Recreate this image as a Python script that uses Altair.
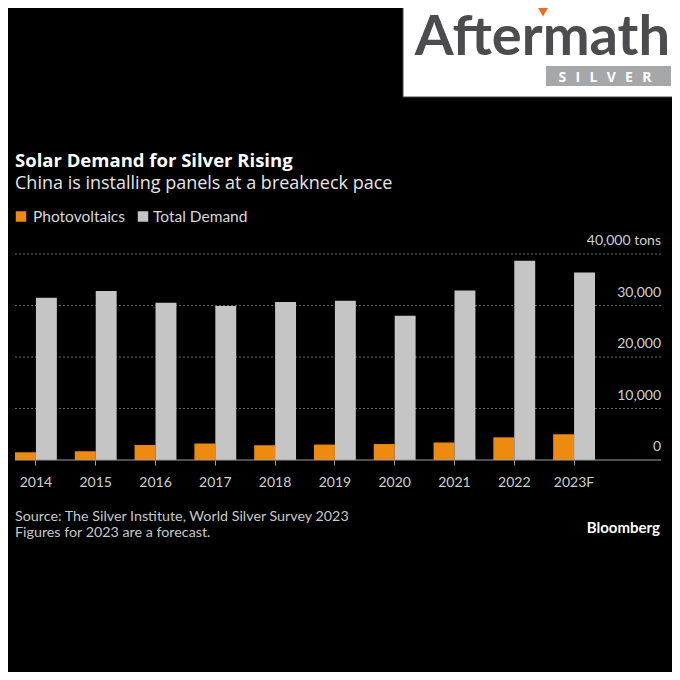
import altair as alt
import pandas as pd

years = ["2014", "2015", "2016", "2017", "2018", "2019", "2020", "2021", "2022", "2023F"]
photovoltaics = [1500, 1700, 2900, 3200, 2850, 3000, 3100, 3400, 4400, 5000]
total_demand = [31500, 32800, 30550, 29900, 30700, 30900, 28000, 32900, 38700, 36400]
series_names = ["Photovoltaics", "Total Demand"]
series_colors = ["#ee8a0f", "#c5c5c5"]
grid_values = [10000, 20000, 30000, 40000]
ytick_values = [0, 10000, 20000, 30000, 40000]
ytick_labels = ["0", "10,000", "20,000", "30,000", "40,000 tons"]

title = "Solar Demand for Silver Rising"
subtitle = "China is installing panels at a breakneck pace"
source1 = "Source: The Silver Institute, World Silver Survey 2023"
source2 = "Figures for 2023 are a forecast."

FONT = "Lato"
HEAD = "Open Sans"

rows = []
for i, y in enumerate(years):
    rows.append({"year": y, "series": series_names[0], "value": photovoltaics[i]})
    rows.append({"year": y, "series": series_names[1], "value": total_demand[i]})
bars_df = pd.DataFrame(rows)
grid_df = pd.DataFrame({"value": grid_values})
ylab_df = pd.DataFrame({"value": ytick_values, "label": ytick_labels})

yscale = alt.Scale(domain=[0, 40000], nice=False)

grid = alt.Chart(grid_df).mark_rule(color="#6a6a6a", strokeDash=[2, 2], strokeWidth=1).encode(
    y=alt.Y("value:Q", scale=yscale, axis=None),
    x=alt.value(0), x2=alt.value(646),
)

bars = alt.Chart(bars_df).mark_bar().encode(
    x=alt.X("year:N", sort=years,
            scale=alt.Scale(paddingInner=0.3, paddingOuter=0),
            axis=alt.Axis(title=None, labelAngle=0, domain=False, tickColor="#a0a0a0",
                          tickSize=5, labelFont=FONT, labelFontSize=14, labelColor="#d0d0d0",
                          labelPadding=10, grid=False)),
    xOffset=alt.XOffset("series:N", sort=series_names, scale=alt.Scale(paddingInner=0, paddingOuter=0)),
    y=alt.Y("value:Q", scale=yscale, axis=None),
    color=alt.Color("series:N", scale=alt.Scale(domain=series_names, range=series_colors), legend=None),
)

baseline = alt.Chart(pd.DataFrame({"value": [0]})).mark_rule(color="#a0a0a0", strokeWidth=1).encode(
    y=alt.Y("value:Q", scale=yscale, axis=None),
    x=alt.value(0), x2=alt.value(646),
)

ylabels = alt.Chart(ylab_df).mark_text(align="right", baseline="alphabetic", dy=-9,
                                       font=FONT, fontSize=14, color="#d0d0d0").encode(
    y=alt.Y("value:Q", scale=yscale, axis=None),
    x=alt.value(646),
    text="label:N",
)


def txt(s, x, y, size, color, weight="normal", align="left", font=FONT, baseline="alphabetic"):
    return alt.Chart(pd.DataFrame({"t": [s]})).mark_text(
        align=align, baseline=baseline, font=font, fontSize=size, color=color, fontWeight=weight
    ).encode(x=alt.value(x), y=alt.value(y), text="t:N")


def square(x, color):
    return alt.Chart(pd.DataFrame({"a": [0]})).mark_square(size=110, opacity=1, color=color).encode(
        x=alt.value(x), y=alt.value(-37.5))


deco = [
    txt(title, 0, -87, 18.5, "#ffffff", weight="bold", font=HEAD),
    txt(subtitle, 0, -65, 18, "#e6e6e6", font=HEAD),
    square(6, series_colors[0]),
    square(128, series_colors[1]),
    txt(series_names[0], 18, -37.5, 15.5, "#d8d8d8", baseline="middle"),
    txt(series_names[1], 138, -37.5, 15.5, "#d8d8d8", baseline="middle"),
    txt(source1, 0, 267, 14.3, "#c8c8c8"),
    txt(source2, 0, 282.5, 14.3, "#c8c8c8"),
    txt("Bloomberg", 645, 279, 15, "#ffffff", weight="bold", align="right"),
    # logo
    alt.Chart(pd.DataFrame({"a": [0]})).mark_rect(color="#ffffff", stroke="#444444", strokeWidth=1).encode(
        x=alt.value(388), x2=alt.value(700), y=alt.value(-270), y2=alt.value(-157)),
    txt("Aftermath", 655, -199, 56, "#4c4c4e", font="Lato", weight="bold", align="right"),
    alt.Chart(pd.DataFrame({"a": [0]})).mark_point(shape="triangle-down", filled=True, size=110,
                                                  color="#f26a1b", opacity=1).encode(
        x=alt.value(528), y=alt.value(-242)),
    alt.Chart(pd.DataFrame({"a": [0]})).mark_rect(color="#a6a7a9").encode(
        x=alt.value(531), x2=alt.value(656), y=alt.value(-188), y2=alt.value(-168)),
    txt("S\u2002\u2009I\u2002\u2009L\u2002\u2009V\u2002\u2009E\u2002\u2009R", 590, -172.5, 14, "#ffffff",
        weight="bold", align="center", font="Open Sans"),
]

chart = alt.layer(grid, bars, baseline, ylabels, *deco).resolve_scale(color="independent").properties(
    width=580, height=206,
    autosize=alt.AutoSizeParams(type="none"),
    padding={"left": 7, "top": 246, "right": 77, "bottom": 212},
    background="#000000",
).configure_view(stroke=None)

chart.save("out.html", embed_options={"renderer": "svg", "actions": False})
